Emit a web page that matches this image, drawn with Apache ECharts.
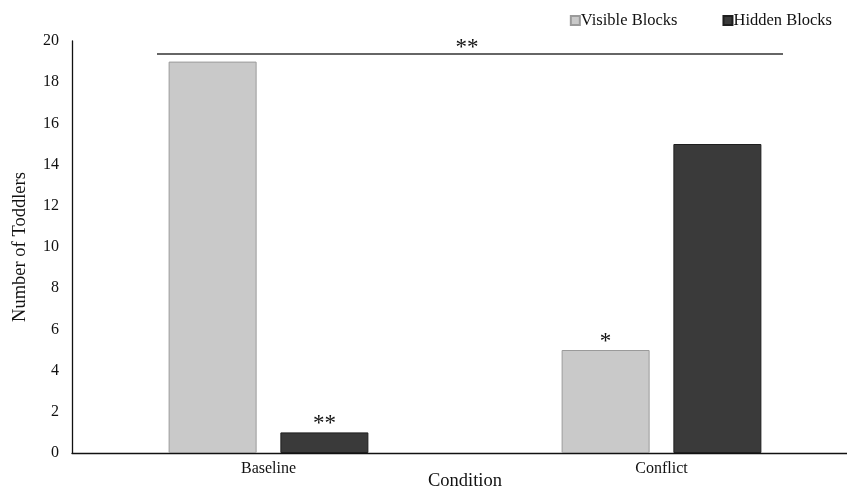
<!DOCTYPE html>
<html>
<head>
<meta charset="utf-8">
<script src="https://cdn.jsdelivr.net/npm/echarts@6/dist/echarts.min.js"></script>
<style>
  html, body { margin: 0; padding: 0; background: #fff; }
  #chart { width: 847px; height: 490px; }
</style>
</head>
<body>
<div id="chart"></div>
<script>
const categories = ['Baseline', 'Conflict']
const visibleBlocks = [19, 5]
const hiddenBlocks = [1, 15]
const visibleMarks = ['', '*']
const hiddenMarks = ['**', '']
const yTicks = [0, 2, 4, 6, 8, 10, 12, 14, 16, 18, 20]

const font = '"Liberation Serif", "DejaVu Serif", serif'

const chart = echarts.init(document.getElementById('chart'))

function withMarks(values, marks) {
  return values.map((v, i) => ({
    value: v,
    label: { show: !!marks[i], formatter: marks[i] }
  }))
}

chart.setOption({
  animation: false,
  textStyle: { fontFamily: font },
  legend: {
    top: 7,
    right: 10,
    icon: 'rect',
    itemWidth: 9,
    itemHeight: 9,
    itemGap: 45,
    textStyle: { fontFamily: font, fontSize: 16.5, color: '#111', padding: [0, 0, 0, -4] },
    data: ['Visible Blocks', 'Hidden Blocks']
  },
  grid: { left: 72, right: -11, top: 41, bottom: 37, outerBoundsMode: 'none', containLabel: false },
  xAxis: {
    type: 'category',
    data: categories,
    name: 'Condition',
    nameLocation: 'middle',
    nameGap: 19,
    nameMoveOverlap: false,
    nameTextStyle: { fontFamily: font, fontSize: 18.5, color: '#111', verticalAlign: 'top' },
    axisLine: { lineStyle: { color: '#111', width: 1.3 } },
    axisTick: { show: false },
    axisLabel: { fontFamily: font, fontSize: 16, color: '#111', margin: 8 }
  },
  yAxis: {
    type: 'value',
    min: 0,
    max: 20,
    interval: 2,
    name: 'Number of Toddlers',
    nameLocation: 'middle',
    nameGap: 42,
    nameTextStyle: { fontFamily: font, fontSize: 18.5, color: '#111' },
    axisLine: { show: true, lineStyle: { color: '#111', width: 1.3 } },
    axisTick: { show: false },
    splitLine: { show: false },
    axisLabel: {
      fontFamily: font, fontSize: 16, color: '#111', margin: 13,
      formatter: v => yTicks.includes(v) ? String(v) : ''
    }
  },
  series: [
    {
      name: 'Visible Blocks',
      type: 'bar',
      data: withMarks(visibleBlocks, visibleMarks),
      barWidth: 88,
      barGap: '27%',
      itemStyle: { color: '#c9c9c9', borderColor: '#9a9a9a', borderWidth: 1 },
      label: { position: 'top', distance: -3, fontSize: 23, color: '#111', fontFamily: font }
    },
    {
      name: 'Hidden Blocks',
      type: 'bar',
      data: withMarks(hiddenBlocks, hiddenMarks),
      barWidth: 88,
      itemStyle: { color: '#3a3a3a', borderColor: '#1e1e1e', borderWidth: 1 },
      label: { position: 'top', distance: -3, fontSize: 23, color: '#111', fontFamily: font }
    }
  ],
  graphic: [
    { type: 'line', shape: { x1: 157, y1: 54, x2: 783, y2: 54 }, style: { stroke: '#333', lineWidth: 1.5 } },
    { type: 'text', x: 467, y: 59, style: { text: '**', fontSize: 23, fontFamily: font, fill: '#111', align: 'center', verticalAlign: 'bottom' } }
  ]
})
</script>
</body>
</html>
